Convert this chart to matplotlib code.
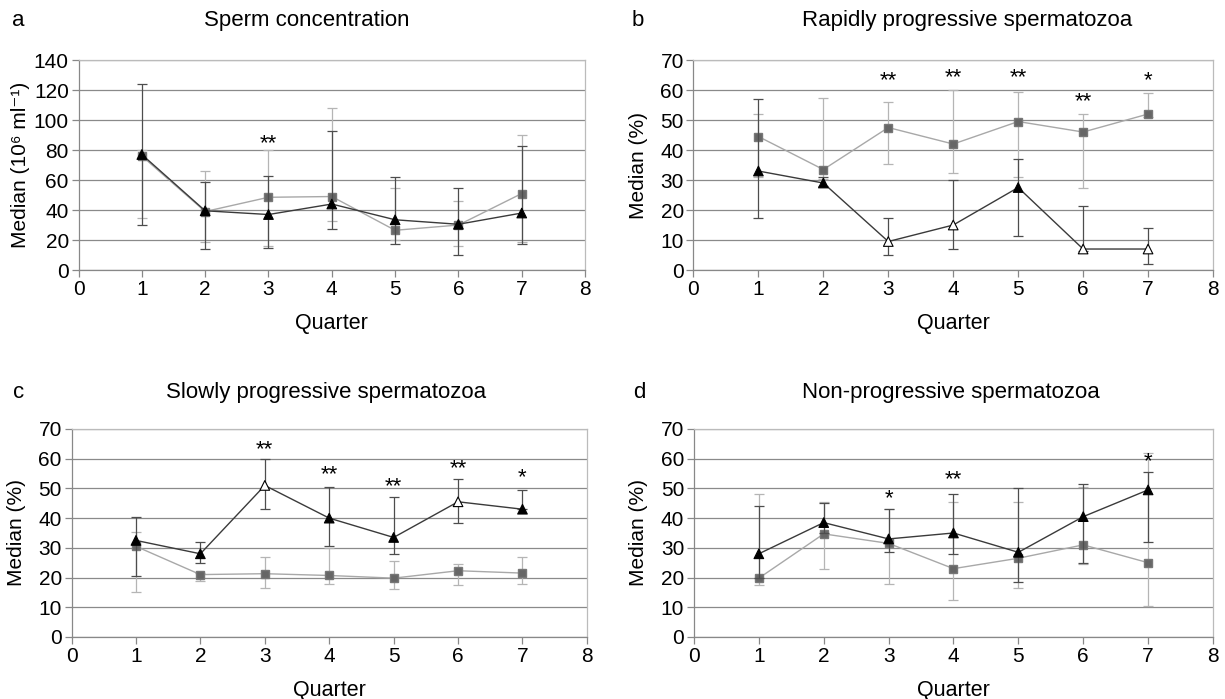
import matplotlib
matplotlib.use('Agg')
import matplotlib.pyplot as plt
import numpy as np

plt.rcParams['font.family'] = ['Liberation Sans', 'DejaVu Sans']

quarters = [1, 2, 3, 4, 5, 6, 7]

# a - sperm concentration
sq_a = [76, 39, 48.5, 49, 26.5, 30, 51]
sq_a_lo = [35, 19, 16, 33, 20, 16, 19]
sq_a_hi = [80, 66, 80, 108, 55, 46, 90]
tri_a = [77, 39.5, 37, 44, 33.5, 30.5, 38]
tri_a_lo = [30, 14, 15, 27.5, 17.5, 10, 17.5]
tri_a_hi = [124, 59, 63, 93, 62, 55, 83]
open_a = [0, 0, 0, 0, 0, 0, 0]
stars_a = [(3, 84, '**')]

# b - rapidly progressive
sq_b = [44.5, 33.5, 47.5, 42, 49.5, 46, 52]
sq_b_lo = [31, 30.5, 35.5, 32.5, 31, 27.5, 51]
sq_b_hi = [52, 57.5, 56, 60, 59.5, 52, 59]
tri_b = [33, 29, 9.5, 15, 27.5, 7, 7]
tri_b_lo = [17.5, 28, 5, 7, 11.5, 6.5, 2]
tri_b_hi = [57, 31, 17.5, 30, 37, 21.5, 14]
open_b = [0, 0, 1, 1, 0, 1, 1]
stars_b = [(3, 63, '**'), (4, 64, '**'), (5, 64, '**'), (6, 56, '**'), (7, 63, '*')]

# c - slowly progressive
sq_c = [30.5, 21, 21.3, 20.7, 19.8, 22.3, 21.5]
sq_c_lo = [15, 19, 16.5, 18, 16, 17.5, 18]
sq_c_hi = [35.5, 21.5, 27, 30, 25.5, 24.5, 27]
tri_c = [32.5, 28, 51, 40, 33.5, 45.5, 43]
tri_c_lo = [20.5, 25, 43, 30.5, 28, 38.5, 43]
tri_c_hi = [40.5, 32, 60, 50.5, 47, 53, 49.5]
open_c = [0, 0, 1, 0, 0, 1, 0]
stars_c = [(3, 63, '**'), (4, 54.5, '**'), (5, 50.5, '**'), (6, 56.5, '**'), (7, 53.5, '*')]

# d - non-progressive
sq_d = [19.8, 34.7, 31.5, 23, 26.5, 31, 25]
sq_d_lo = [17.5, 23, 18, 12.5, 16.5, 24.5, 10.5]
sq_d_hi = [48, 45.5, 43, 45.5, 45.5, 50.5, 62]
tri_d = [28, 38.5, 33, 35, 28.5, 40.5, 49.5]
tri_d_lo = [20, 35, 28.5, 28, 18.5, 25, 32]
tri_d_hi = [44, 45, 43, 48, 50, 51.5, 55.5]
open_d = [0, 0, 0, 0, 0, 0, 0]
stars_d = [(3, 46.5, '*'), (4, 53, '**'), (7, 59, '*')]


def draw_panel(ax, sq, sq_lo, sq_hi, tri, tri_lo, tri_hi, open_tri, stars,
               ymax, ystep, ylabel, ylabelpad):
    x = np.array(quarters)
    sq = np.array(sq)
    tri = np.array(tri)

    ax.set_axisbelow(True)
    ax.yaxis.grid(True, color='#8a8a8a', linewidth=0.9)

    # squares (light series)
    ax.errorbar(x, sq, yerr=[sq - np.array(sq_lo), np.array(sq_hi) - sq],
                fmt='none', ecolor='#b5b5b5', elinewidth=0.9, capsize=3.5,
                capthick=0.9, zorder=2)
    ax.plot(x, sq, color='#a8a8a8', linewidth=1.0, zorder=3)
    ax.plot(x, sq, linestyle='none', marker='s', markersize=5.8,
            markerfacecolor='#666666', markeredgecolor='#777777', zorder=4)

    # triangles (dark series)
    ax.errorbar(x, tri, yerr=[tri - np.array(tri_lo), np.array(tri_hi) - tri],
                fmt='none', ecolor='#4d4d4d', elinewidth=0.9, capsize=3.5,
                capthick=0.9, zorder=5)
    ax.plot(x, tri, color='#3a3a3a', linewidth=1.0, zorder=6)
    faces = ['white' if o else 'black' for o in open_tri]
    ax.scatter(x, tri, marker='^', s=48, facecolors=faces,
               edgecolors='black', linewidths=0.8, zorder=7)

    for q, y, t in stars:
        ax.text(q, y, t, ha='center', va='center', fontsize=16)

    ax.set_xlim(0, 8)
    ax.set_ylim(0, ymax)
    ax.set_xticks(range(0, 9))
    ax.set_yticks(np.arange(0, ymax + 1, ystep))
    ax.tick_params(axis='both', labelsize=15, color='#888888',
                   direction='out', length=5, width=0.9, pad=2)
    ax.set_xlabel('Quarter', fontsize=15.5, labelpad=10)
    ax.set_ylabel(ylabel, fontsize=15, labelpad=ylabelpad)
    for side in ['left', 'bottom']:
        ax.spines[side].set_color('#888888')
        ax.spines[side].set_linewidth(0.9)
    for side in ['top', 'right']:
        ax.spines[side].set_color('#bbbbbb')
        ax.spines[side].set_linewidth(0.9)


fig = plt.figure(figsize=(12.25, 6.99), dpi=100)

ax_a = fig.add_axes([0.0641, 0.6137, 0.4135, 0.3004])
ax_b = fig.add_axes([0.5661, 0.6137, 0.4241, 0.3004])
ax_c = fig.add_axes([0.0584, 0.0887, 0.4207, 0.2976])
ax_d = fig.add_axes([0.5665, 0.0887, 0.4237, 0.2976])

draw_panel(ax_a, sq_a, sq_a_lo, sq_a_hi, tri_a, tri_a_lo, tri_a_hi, open_a,
           stars_a, 140, 20, 'Median (10\u2076 ml\u207b\u00b9)', 3)
draw_panel(ax_b, sq_b, sq_b_lo, sq_b_hi, tri_b, tri_b_lo, tri_b_hi, open_b,
           stars_b, 70, 10, 'Median (%)', 9)
draw_panel(ax_c, sq_c, sq_c_lo, sq_c_hi, tri_c, tri_c_lo, tri_c_hi, open_c,
           stars_c, 70, 10, 'Median (%)', 9)
draw_panel(ax_d, sq_d, sq_d_lo, sq_d_hi, tri_d, tri_d_lo, tri_d_hi, open_d,
           stars_d, 70, 10, 'Median (%)', 9)

# titles and panel letters
fig.text(307 / 1225, 0.971, 'Sperm concentration', ha='center', va='center', fontsize=16)
fig.text(967 / 1225, 0.971, 'Rapidly progressive spermatozoa', ha='center', va='center', fontsize=16)
fig.text(326 / 1225, 0.438, 'Slowly progressive spermatozoa', ha='center', va='center', fontsize=16)
fig.text(951 / 1225, 0.438, 'Non-progressive spermatozoa', ha='center', va='center', fontsize=16)
fig.text(18 / 1225, 0.971, 'a', ha='center', va='center', fontsize=16)
fig.text(638 / 1225, 0.971, 'b', ha='center', va='center', fontsize=16)
fig.text(19 / 1225, 0.438, 'c', ha='center', va='center', fontsize=16)
fig.text(639 / 1225, 0.438, 'd', ha='center', va='center', fontsize=16)

plt.savefig('out.png', dpi=100)
